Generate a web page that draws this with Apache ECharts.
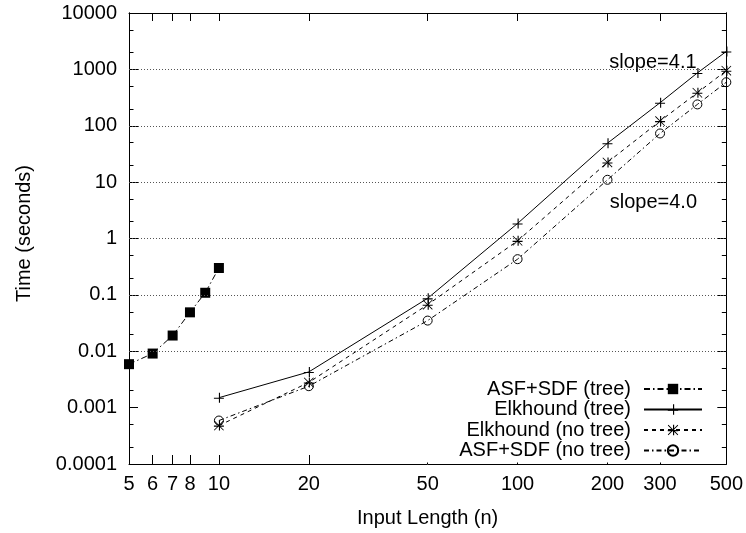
<!DOCTYPE html>
<html><head><meta charset="utf-8">
<script src="https://cdn.jsdelivr.net/npm/echarts@6/dist/echarts.min.js"></script>
<style>html,body{margin:0;padding:0;background:#fff}#c{width:746px;height:533px}</style>
</head><body><div id="c"></div>
<script>
// ---- data ----
const seriesNames = ['ASF+SDF (tree)', 'Elkhound (tree)', 'Elkhound (no tree)', 'ASF+SDF (no tree)'];
const nAsfTree = [5, 6, 7, 8, 9, 10];
const asfTree = [0.0059, 0.0091, 0.019, 0.049, 0.109, 0.30];
const nElk = [10, 20, 50, 100, 200, 300, 400, 500];
const elkTree = [0.0015, 0.0043, 0.087, 1.85, 49, 256, 865, 2080];
const elkNoTree = [0.00048, 0.0028, 0.067, 0.91, 22.4, 121, 385, 950];
const asfNoTree = [0.00059, 0.0024, 0.035, 0.43, 11.0, 73, 239, 592];
const xTicks = [5, 6, 7, 8, 10, 20, 50, 100, 200, 300, 500];
const yMajor = [0.0001, 0.001, 0.01, 0.1, 1, 10, 100, 1000, 10000];
const yMajorLabels = ['0.0001', '0.001', '0.01', '0.1', '1', '10', '100', '1000', '10000'];
const yMinor = [0.0002, 0.0005, 0.002, 0.005, 0.02, 0.05, 0.2, 0.5, 2, 5, 20, 50, 200, 500, 2000, 5000];
const gridValues = [0.001, 0.01, 0.1, 1, 10, 100, 1000];
const slopeNotes = [
  { text: 'slope=4.1', n: 284, t: 1300 },
  { text: 'slope=4.0', n: 285, t: 4.35 }
];

// ---- chart ----
const FONT = 'Liberation Sans, Arial, Helvetica, sans-serif';
const zip = (xs, ys) => xs.map((x, i) => [x, ys[i]]);
const PLUS = 'path://M0,4.5H9V5.5H0Z M4.5,0H5.5V9H4.5Z';
const STAR = 'path://M0,4.5H9V5.5H0Z M4.5,0H5.5V9H4.5Z M0.5,0L9,8.5L8.5,9L0,0.5Z M8.5,0L9,0.5L0.5,9L0,8.5Z';

function xAxisDef(pos, labels) {
  return {
    type: 'log', logBase: 10, min: 5, max: 500, position: pos,
    axisLine: { show: true, onZero: false, lineStyle: { color: '#000', width: 1 } },
    axisTick: { show: true, inside: true, length: pos === 'bottom' ? 9 : 8, customValues: xTicks, lineStyle: { color: '#000' } },
    axisLabel: labels ? { show: true, customValues: xTicks, color: '#000', fontSize: 20, fontFamily: FONT, margin: 10 } : { show: false },
    splitLine: { show: false },
    name: labels ? 'Input Length (n)' : '', nameLocation: 'middle', nameGap: 44,
    nameTextStyle: { color: '#000', fontSize: 20, fontFamily: FONT }
  };
}
function yAxisDef(pos, values, len, labels) {
  return {
    type: 'log', logBase: 10, min: 0.0001, max: 10000, position: pos,
    axisLine: { show: true, onZero: false, lineStyle: { color: '#000', width: 1 } },
    axisTick: { show: true, inside: true, length: len, customValues: values, lineStyle: { color: '#000' } },
    axisLabel: labels ? {
      show: true, customValues: values, color: '#000', fontSize: 20, fontFamily: FONT, margin: 12,
      formatter: v => yMajorLabels[Math.round(Math.log10(v)) + 4]
    } : { show: false },
    splitLine: { show: false },
    name: labels ? 'Time (seconds)' : '', nameLocation: 'middle', nameGap: 95, nameRotate: 90,
    nameTextStyle: { color: '#000', fontSize: 20, fontFamily: FONT, padding: [0, 0, 0, 10] }
  };
}

const lineBase = { type: 'line', xAxisIndex: 0, yAxisIndex: 0, animation: false, showAllSymbol: true };

const option = {
  animation: false,
  backgroundColor: '#fff',
  textStyle: { fontFamily: FONT },
  grid: { left: 129, right: 17, top: 13, bottom: 66, containLabel: false },
  xAxis: [xAxisDef('bottom', true), xAxisDef('top', false)],
  yAxis: [
    yAxisDef('left', yMajor, 9, true),
    yAxisDef('right', yMajor, 9, false),
    yAxisDef('left', yMinor, 4.5, false),
    yAxisDef('right', yMinor, 4.5, false)
  ],
  legend: {
    orient: 'vertical', align: 'right', right: 30, top: 377,
    padding: [2, 13, 2, 48], itemGap: 0.5, itemWidth: 58, itemHeight: 13,
    backgroundColor: '#fff', selectedMode: false,
    textStyle: { color: '#000', fontSize: 20, fontFamily: FONT, lineHeight: 20, padding: [0, 8, 0, 0] },
    data: seriesNames
  },
  series: [
    Object.assign({}, lineBase, {
      name: seriesNames[0], data: zip(nAsfTree, asfTree),
      symbol: 'rect', symbolSize: 10,
      lineStyle: { color: '#000', width: 1, type: [6, 3, 1.5, 3] },
      itemStyle: { color: '#000', borderWidth: 0 },
      markLine: {
        silent: true, symbol: ['none', 'none'], label: { show: false }, animation: false,
        lineStyle: { color: '#555', width: 1, type: [1, 2] },
        emphasis: { disabled: true },
        data: gridValues.map(v => ({ yAxis: v }))
      }
    }),
    Object.assign({}, lineBase, {
      name: seriesNames[1], data: zip(nElk, elkTree),
      symbol: PLUS, symbolSize: 10,
      lineStyle: { color: '#000', width: 1, type: 'solid' },
      itemStyle: { color: '#000', borderWidth: 0 },
      markPoint: {
        silent: true, symbol: 'circle', symbolSize: 0, animation: false,
        label: { show: true, position: 'inside', color: '#000', fontSize: 20, fontFamily: FONT, formatter: p => p.name },
        data: slopeNotes.map(s => ({ name: s.text, coord: [s.n, s.t] }))
      }
    }),
    Object.assign({}, lineBase, {
      name: seriesNames[2], data: zip(nElk, elkNoTree),
      symbol: STAR, symbolSize: 10,
      lineStyle: { color: '#000', width: 1, type: [4, 4] },
      itemStyle: { color: '#000', borderWidth: 0 }
    }),
    Object.assign({}, lineBase, {
      name: seriesNames[3], data: zip(nElk, asfNoTree),
      symbol: 'circle', symbolSize: 9,
      lineStyle: { color: '#000', width: 1, type: [5, 3, 1.5, 3] },
      itemStyle: { color: 'rgba(255,255,255,0)', borderColor: '#000', borderWidth: 1 }
    })
  ]
};
const chart = echarts.init(document.getElementById('c'), null, { renderer: 'canvas' });
chart.setOption(option);
</script></body></html>
